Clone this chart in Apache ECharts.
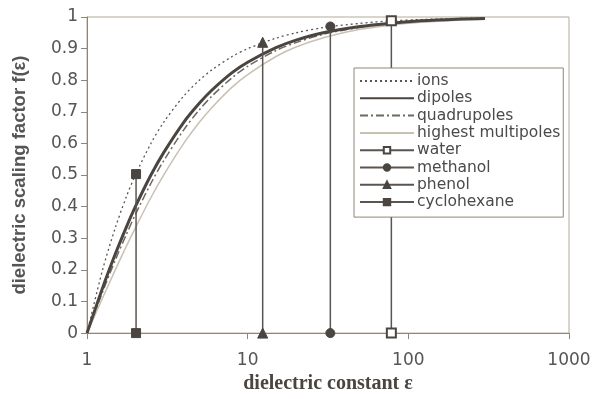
<!DOCTYPE html>
<html>
<head>
<meta charset="utf-8">
<script src="https://cdn.jsdelivr.net/npm/echarts@6/dist/echarts.min.js"></script>
<style>
  html, body { margin: 0; padding: 0; background: #fff; }
  #chart { width: 594px; height: 399px; }
</style>
</head>
<body>
<div id="chart"></div>
<script>
// dielectric constant samples (x) and curve values
var eps = [1, 1.25, 1.5, 1.75, 2, 2.5, 3, 4, 5, 6, 8, 10, 15, 20, 30, 50, 80, 120, 200, 300];
var ions = [0, 0.2, 0.333, 0.429, 0.5, 0.6, 0.667, 0.75, 0.8, 0.833, 0.875, 0.9, 0.933, 0.95, 0.967, 0.98, 0.988, 0.992, 0.995, 0.997];
var dipoles = [0, 0.143, 0.25, 0.333, 0.4, 0.5, 0.571, 0.667, 0.727, 0.769, 0.824, 0.857, 0.903, 0.927, 0.951, 0.97, 0.981, 0.988, 0.993, 0.995];
var quadrupoles = [0, 0.13, 0.231, 0.31, 0.375, 0.474, 0.545, 0.643, 0.706, 0.75, 0.808, 0.844, 0.894, 0.919, 0.946, 0.967, 0.979, 0.986, 0.992, 0.994];
var highest = [0, 0.111, 0.2, 0.273, 0.333, 0.429, 0.5, 0.6, 0.667, 0.714, 0.778, 0.818, 0.875, 0.905, 0.935, 0.961, 0.975, 0.983, 0.99, 0.993];

// solvents: dielectric constant and f(eps) marker height
var solvents = ['water', 'methanol', 'phenol', 'cyclohexane'];
var solventEps = [78.4, 32.7, 12.4, 2.02];
var solventF = [0.988, 0.97, 0.92, 0.503];
var solventSymbols = ['emptyRect', 'circle', 'triangle', 'rect'];

var curveNames = ['ions', 'dipoles', 'quadrupoles', 'highest multipoles'];
var yTicks = ['0', '0.1', '0.2', '0.3', '0.4', '0.5', '0.6', '0.7', '0.8', '0.9', '1'];

function pairs(xs, ys) {
    return xs.map(function (x, i) { return [x, ys[i]]; });
}

var dark = '#4a4540';
var series = [
    {
        name: 'ions', type: 'line', data: pairs(eps, ions), symbol: 'none', smooth: 0.3,
        lineStyle: { color: '#5a5550', width: 1.3, type: [2, 3] }, itemStyle: { color: '#5a5550' }
    },
    {
        name: 'dipoles', type: 'line', data: pairs(eps, dipoles), symbol: 'none', smooth: 0.3, z: 4,
        lineStyle: { color: dark, width: 3 }, itemStyle: { color: dark }
    },
    {
        name: 'quadrupoles', type: 'line', data: pairs(eps, quadrupoles), symbol: 'none', smooth: 0.3,
        lineStyle: { color: '#6e6860', width: 1.5, type: [8, 3, 2, 3] }, itemStyle: { color: '#6e6860' }
    },
    {
        name: 'highest multipoles', type: 'line', data: pairs(eps, highest), symbol: 'none', smooth: 0.3,
        lineStyle: { color: '#c9c0b2', width: 1.5 }, itemStyle: { color: '#c9c0b2' }
    }
];
solvents.forEach(function (s, i) {
    series.push({
        name: s, type: 'line',
        data: [[solventEps[i], 0], [solventEps[i], solventF[i]]],
        symbol: solventSymbols[i], symbolSize: solventSymbols[i] === 'triangle' ? 10 : 9,
        showAllSymbol: true, z: 5,
        lineStyle: { color: '#5a5550', width: 1.5 },
        itemStyle: { color: '#4a4540', borderColor: '#4a4540', borderWidth: 1 }
    });
});

// legend entries: curves show only their line, solvents show line + marker
var legendData = curveNames.map(function (n) {
    return { name: n, itemStyle: { opacity: 0 } };
}).concat(solvents);

var option = {
    animation: false,
    backgroundColor: '#fff',
    grid: {
        left: 87, right: 25, top: 17, bottom: 60,
        show: true, borderColor: '#b3a999', borderWidth: 1
    },
    legend: {
        data: legendData,
        orient: 'vertical',
        left: 354, top: 68,
        padding: [5, 3, 7, 5],
        itemWidth: 54, itemHeight: 8, itemGap: 1.3,
        backgroundColor: '#fff', borderColor: '#8f8578', borderWidth: 1,
        textStyle: { fontFamily: 'DejaVu Sans', fontSize: 15.5, color: '#4a4a4a', padding: [0, 0, 0, -2] },
        selectedMode: false,
        z: 10
    },
    xAxis: {
        type: 'log', logBase: 10, min: 1, max: 1000,
        name: 'dielectric constant \u03b5', nameLocation: 'middle', nameGap: 40,
        nameTextStyle: { fontFamily: 'Liberation Serif', fontWeight: 'bold', fontSize: 20, color: '#4a4540' },
        axisLine: { lineStyle: { color: '#8f8578', width: 1 } },
        axisTick: { show: true, length: 6, lineStyle: { color: '#8f8578' } },
        minorTick: { show: false },
        splitLine: { show: false },
        axisLabel: {
            fontFamily: 'DejaVu Sans', fontSize: 17, color: '#555', margin: 19,
            formatter: function (v) { return String(Math.round(v)); }
        }
    },
    yAxis: {
        type: 'value', min: 0, max: 1, interval: 0.1,
        name: 'dielectric scaling factor f(\u03b5)', nameLocation: 'middle', nameGap: 58, nameRotate: 90,
        nameTextStyle: { fontFamily: 'Liberation Sans', fontWeight: 'bold', fontSize: 18.5, color: '#555' },
        axisLine: { show: true, lineStyle: { color: '#8f8578', width: 1 } },
        axisTick: { show: true, length: 6, lineStyle: { color: '#8f8578' } },
        splitLine: { show: false },
        axisLabel: {
            fontFamily: 'DejaVu Sans', fontSize: 17, color: '#555', margin: 9,
            formatter: function (v) { return yTicks[Math.round(v * 10)]; }
        }
    },
    series: series
};

var chart = echarts.init(document.getElementById('chart'));
chart.setOption(option);
</script>
</body>
</html>
